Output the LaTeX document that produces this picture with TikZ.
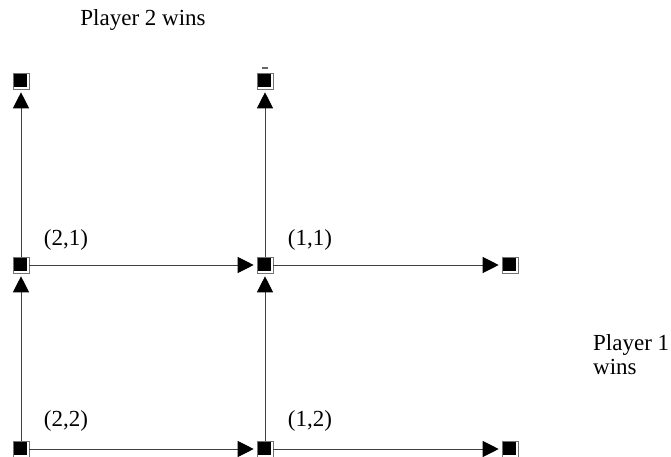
\documentclass[tikz,border=0pt]{standalone}
\usepackage{fontspec}
\setmainfont{Liberation Serif}
\usetikzlibrary{arrows.meta}
\begin{document}
\begin{tikzpicture}[x=1pt,y=-1pt,
  sq/.style={rectangle, minimum size=16pt, inner sep=0pt, draw=black!55, line width=0.6pt, fill=white,
    path picture={\fill[black] (path picture bounding box.north west) rectangle ([xshift=-2.4pt,yshift=2.4pt]path picture bounding box.south east);}},
  arr/.style={draw=black!75, line width=1pt, -{Triangle[length=16pt,width=16pt,color=black]}, shorten >=3pt},
  lbl/.style={font=\fontsize{23}{24}\selectfont, inner sep=0pt}]
\useasboundingbox (0,0) rectangle (671,457);
% states
\node[sq] (t1) at (21,81) {};
\node[sq] (t2) at (265,81) {};
\node[sq] (m1) at (21,265) {};
\node[sq] (m2) at (265,265) {};
\node[sq] (m3) at (510,265) {};
\node[sq] (b1) at (21,449) {};
\node[sq] (b2) at (265,449) {};
\node[sq] (b3) at (510,449) {};
% connectors
\draw[arr] (b1) -- (m1);
\draw[arr] (m1) -- (t1);
\draw[arr] (b2) -- (m2);
\draw[arr] (m2) -- (t2);
\draw[arr] (b1) -- (b2);
\draw[arr] (b2) -- (b3);
\draw[arr] (m1) -- (m2);
\draw[arr] (m2) -- (m3);
% small mark
\draw[black!60, line width=1.2pt] (262,68) -- (268,68);
% labels
\node[lbl] (l21) at (66,240) {(2,1)};
\node[lbl] (l11) at (310,240) {(1,1)};
\node[lbl] (l22) at (66,421) {(2,2)};
\node[lbl] (l12) at (310,421) {(1,2)};
\node[lbl] (p2) at (143,20) {Player 2 wins};
\node[lbl, anchor=west, align=left] (p1) at (593,355) {Player 1\\wins};
\end{tikzpicture}
\end{document}
